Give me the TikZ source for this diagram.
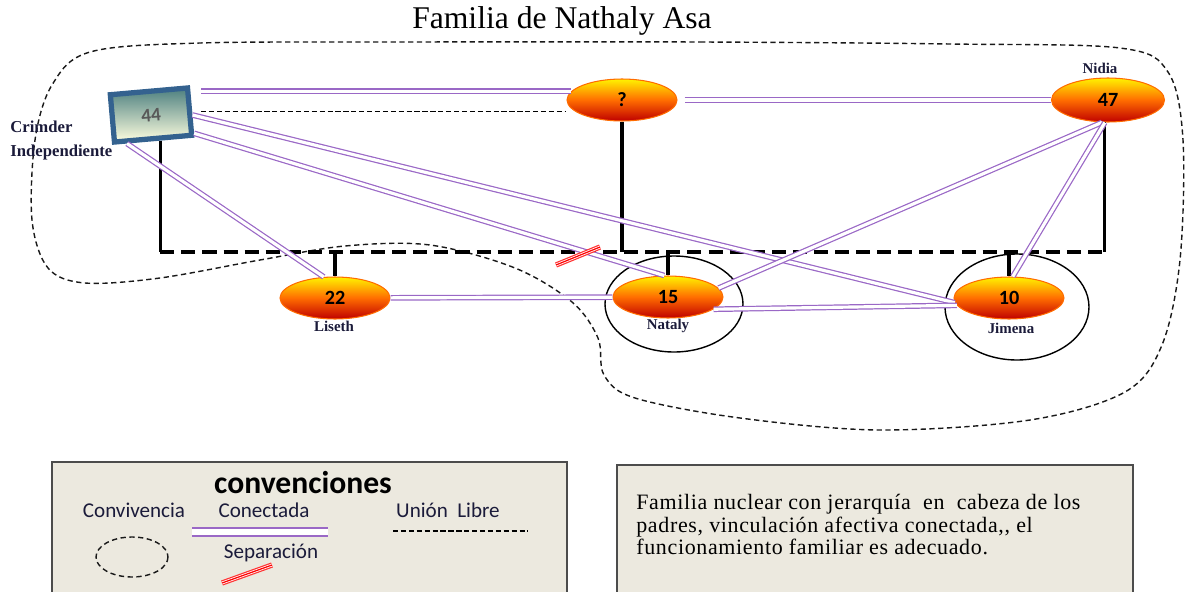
\documentclass[tikz,border=0pt]{standalone}
\usepackage{fontspec}
\setmainfont{Liberation Serif}
\newfontfamily\calib{Carlito}
\newfontfamily\ancha[LetterSpace=3]{Liberation Serif}
\usetikzlibrary{shapes.geometric}
\definecolor{lila}{HTML}{9A68C6}
\definecolor{fondo}{HTML}{ECE9DF}
\definecolor{marco}{HTML}{34628F}
\definecolor{tinta}{HTML}{1B1B3A}

\begin{document}
\begin{tikzpicture}[x=0.02cm, y=-0.02cm,
  persona/.style={ellipse, draw=orange!85!red, line width=0.6pt, top color=yellow!90!orange,
    bottom color=red!75!black, middle color=orange!85!red, minimum width=2.2cm,
    minimum height=0.84cm, inner sep=0pt, font=\calib\bfseries\fontsize{11.5}{12}\selectfont},
  nombre/.style={inner sep=0pt, text=tinta, font=\bfseries\fontsize{8.5}{9}\selectfont},
  conectada/.style={draw=lila, line width=0.7pt, double=white, double distance=1.8pt},
  padre/.style={line width=1.8pt},
  lazo/.style={line width=1.8pt, dash pattern=on 8pt off 4pt},
  union/.style={line width=0.8pt, dash pattern=on 3pt off 1.5pt},
  leyenda/.style={text=tinta, font=\calib\fontsize{12}{13}\selectfont},
  caja/.style={draw=gray!60!black, line width=1.4pt, fill=fondo}]
  \useasboundingbox (0,0) rectangle (1191,592);

  % titulo y hogar
  \node[font=\fontsize{18}{19}\selectfont] (titulo) at (562,21) {Familia de Nathaly Asa};
  \draw[gray!20!black, line width=0.8pt, dash pattern=on 3pt off 2pt] plot[smooth cycle, tension=0.55] coordinates {
    (410,42) (700,42) (950,44) (1120,48) (1168,72) (1183,140) (1180,260) (1162,345)
    (1125,392) (1030,420) (880,430) (740,418) (635,398) (604,375) (598,338) (572,302)
    (515,268) (430,245) (345,246) (260,260) (160,278) (85,283) (48,268) (32,220)
    (35,140) (52,85) (90,52) (200,43)};

  % personas
  \node[draw=marco, line width=3pt, top color=teal!40!gray, bottom color=yellow!12!white,
    minimum width=1.55cm, minimum height=0.95cm, rotate=5, text=gray!70!black,
    font=\calib\bfseries\fontsize{11}{12}\selectfont] (cris) at (151,115) {44};
  \node[persona] (desc) at (622,100) {?};
  \node[persona, minimum width=2.26cm, minimum height=0.88cm] (nidia) at (1108,100) {47};
  \node[persona] (liseth) at (335,298) {22};
  \node[persona] (nataly) at (668,297) {15};
  \node[persona] (jimena) at (1009,298) {10};

  \node[nombre, anchor=west, font=\bfseries\fontsize{9.5}{10}\selectfont] (crisa) at (10,127) {Crimder};
  \node[nombre, anchor=west, font=\bfseries\fontsize{9.5}{10}\selectfont] (crisb) at (10,152) {Independiente};
  \node[nombre] (nidian) at (1100,68) {Nidia};
  \node[nombre] (lisethn) at (334,326) {Liseth};
  \node[nombre] (natalyn) at (668,326) {Nataly};
  \node[nombre] (jimenan) at (1011,328) {Jimena};

  \draw[line width=0.8pt] (674,304) ellipse (69 and 48);
  \draw[line width=0.8pt] (1017,307) ellipse (72 and 53);

  % linea de padres e hijos
  \coordinate (base) at (0,252);
  \draw[padre] ([xshift=4pt]cris.south) -- ([xshift=4pt]cris.south |- base) coordinate (baseA);
  \draw[padre] (desc.south) -- (desc.south |- base);
  \draw[padre] (nidia.262) -- (nidia.262 |- base) coordinate (baseB);
  \draw[lazo] (baseA) -- (baseB);
  \draw[padre] (liseth.north |- base) -- (liseth.north);
  \draw[padre] (nataly.north |- base) -- (nataly.north);
  \draw[padre] (jimena.north |- base) -- (jimena.north);

  % vinculos
  \draw[conectada, shorten <=5pt] (cris.east |- desc.170) -- (desc.170);
  \draw[union, shorten <=5pt] (cris.east) -- (cris.east -| desc.west);
  \draw[conectada, shorten <=4pt] (desc.east) -- (nidia.west);
  \draw[conectada] (cris.225) -- (liseth.118);
  \draw[conectada] (cris.-28) -- (nataly.100);
  \draw[conectada] (cris.-5) -- (jimena.185);
  \draw[conectada] (liseth) -- (nataly);
  \draw[conectada] (nataly.-15) -- (jimena.188);
  \draw[conectada] (nidia.255) -- (nataly.10);
  \draw[conectada] (nidia.262) -- (jimena.80);

  \coordinate (corte) at (578,256);
  \draw[red!80!white, line width=3pt] ([shift={(-22,9)}]corte) -- ([shift={(22,-9)}]corte);
  \draw[white, line width=0.45pt, double=red, double distance=0.7pt] ([shift={(-22,9)}]corte) -- ([shift={(22,-9)}]corte);

  % convenciones
  \draw[caja] (52,462) rectangle (567,600);
  \node[font=\calib\bfseries\fontsize{18}{19}\selectfont] (conv) at (303,483) {convenciones};
  \node[leyenda] (convi) at (134,510) {Convivencia};
  \node[leyenda] (conec) at (264,510) {Conectada};
  \node[leyenda] (libre) at (448,510) {Unión\ \ Libre};
  \node[leyenda] (sepa) at (271,553) {Separación};
  \draw[draw=lila, line width=0.8pt, double=white, double distance=3.6pt] (192,532) -- (328,532);
  \draw[union] (393,531) -- (528,531);
  \draw[gray!20!black, line width=0.8pt, dash pattern=on 3pt off 2pt] (132,557) ellipse (36 and 20);
  \draw[red!80!white, line width=3pt] (222,583) -- (272,565);
  \draw[white, line width=0.45pt, double=red, double distance=0.7pt] (222,583) -- (272,565);

  \draw[caja] (617,465) rectangle (1133,600);
  \node[anchor=north west, align=left, inner sep=0pt, font=\ancha\fontsize{12.5}{12.8}\selectfont] (nota) at (636,494)
    {Familia nuclear con jerarquía\ \ en\ \ cabeza de los\\
     padres, vinculación afectiva conectada,, el\\
     funcionamiento familiar es adecuado.};
\end{tikzpicture}
\end{document}
